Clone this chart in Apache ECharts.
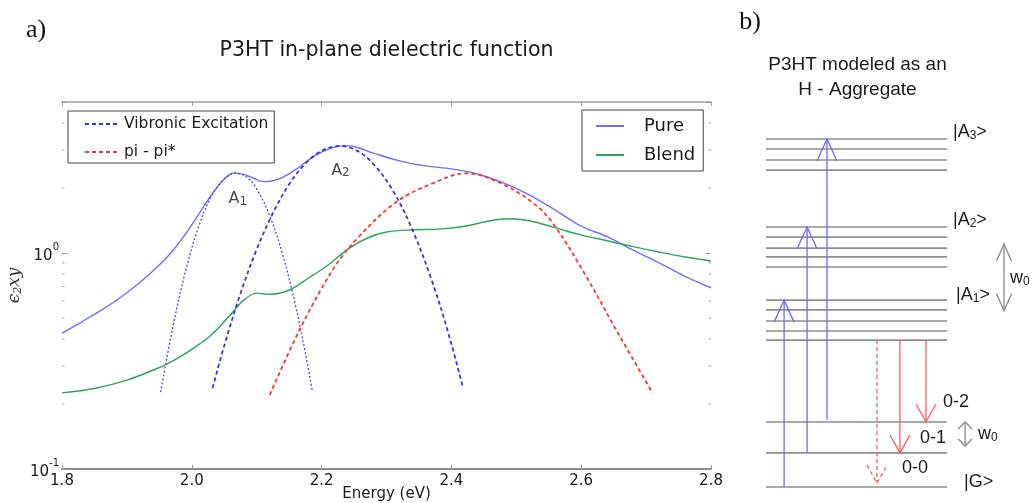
<!DOCTYPE html>
<html>
<head>
<meta charset="utf-8">
<title>P3HT dielectric function and H-aggregate model</title>
<script src="https://cdn.jsdelivr.net/npm/echarts@6/dist/echarts.min.js"></script>
<style>
  html, body { margin: 0; padding: 0; background: #ffffff; }
  #chart { width: 1032px; height: 503px; }
</style>
</head>
<body>
<div id="chart"></div>
<script>
// ---------- Panel a: in-plane eps2 of P3HT (log scale) ----------
const energyMin = 1.8;
const energyMax = 2.8;
const energyStep = 0.2;
const epsMin = 0.1;
const epsMax = 5;
const minorTickValues = [0.2, 0.3, 0.4, 0.5, 0.6, 0.7, 0.8, 0.9, 2, 3, 4];

// Pure P3HT
const pureE = [1.80, 1.83, 1.86, 1.89, 1.92, 1.95, 1.97, 1.99, 2.01, 2.03, 2.05, 2.065, 2.08, 2.095, 2.11, 2.125,
               2.14, 2.16, 2.18, 2.20, 2.22, 2.235, 2.25, 2.28, 2.32, 2.36, 2.40, 2.44, 2.48, 2.52, 2.56, 2.60,
               2.64, 2.68, 2.72, 2.76, 2.80];
const pureV = [0.426, 0.479, 0.542, 0.622, 0.73, 0.879, 1.019, 1.22, 1.50, 1.85, 2.20, 2.35, 2.31, 2.22, 2.14, 2.16,
               2.24, 2.43, 2.70, 2.93, 3.09, 3.14, 3.11, 2.90, 2.67, 2.53, 2.45, 2.32, 2.11, 1.86, 1.58, 1.33,
               1.19, 1.03, 0.90, 0.78, 0.69];

// Blend
const blendE = [1.80, 1.85, 1.90, 1.95, 1.975, 2.00, 2.03, 2.06, 2.08, 2.10, 2.12, 2.15, 2.18, 2.21, 2.24, 2.27,
                2.30, 2.34, 2.38, 2.42, 2.46, 2.49, 2.52, 2.56, 2.60, 2.64, 2.68, 2.72, 2.76, 2.80];
const blendV = [0.225, 0.236, 0.258, 0.295, 0.322, 0.358, 0.417, 0.519, 0.605, 0.652, 0.643, 0.674, 0.766, 0.88, 1.04, 1.17,
                1.25, 1.28, 1.29, 1.33, 1.41, 1.44, 1.41, 1.31, 1.21, 1.14, 1.07, 1.01, 0.958, 0.918];

// Vibronic peak A1 (0-0)
const vibA1E = [1.952, 1.97, 1.99, 2.01, 2.03, 2.05, 2.068, 2.085, 2.10, 2.12, 2.14, 2.16, 2.175, 2.186];
const vibA1V = [0.227, 0.443, 0.817, 1.31, 1.83, 2.20, 2.34, 2.24, 1.98, 1.49, 0.984, 0.568, 0.344, 0.227];

// Vibronic peak A2 (0-1)
const vibA2E = [2.032, 2.05, 2.075, 2.10, 2.125, 2.15, 2.175, 2.20, 2.228, 2.255, 2.28, 2.31, 2.34, 2.37, 2.395, 2.418];
const vibA2V = [0.237, 0.372, 0.649, 1.04, 1.53, 2.08, 2.59, 2.97, 3.13, 2.97, 2.58, 1.94, 1.28, 0.743, 0.428, 0.237];

// pi - pi* band
const piE = [2.12, 2.166, 2.217, 2.254, 2.315, 2.371, 2.423, 2.474, 2.525, 2.555, 2.602, 2.654, 2.71];
const piV = [0.22, 0.44, 0.834, 1.16, 1.72, 2.10, 2.34, 2.12, 1.71, 1.39, 0.834, 0.44, 0.225];

// Peak annotations: [letter, subscript, energy, eps2]
const peakLabels = [['A', '1', 2.071, 1.78], ['A', '2', 2.229, 2.40]];

// ---------- Panel b: H-aggregate energy ladder (arbitrary units) ----------
const levelSpan = [0, 10];
const groundLevels = [0, 1.05, 2.0];
const a1Levels = [4.52, 4.8, 5.11, 5.45, 5.75];
const a2Levels = [6.77, 7.08, 7.35, 7.69, 8.0];
const a3Levels = [9.75, 10.06, 10.4, 10.71];
// absorption arrows: [x, from, to]
const absorption = [[1.0, 0, 5.75], [2.27, 1.05, 8.0], [3.37, 2.08, 10.71]];
// emission arrows: [x, from, to, dashed]
const emission = [[6.13, 4.52, 0.12, 1], [7.40, 4.52, 1.05, 0], [8.84, 4.52, 2.0, 0]];
// vibrational spacing markers: [x, low, high, small]
const spacingMarks = [[13.15, 5.42, 7.48, 0], [11.0, 1.26, 2.0, 1]];
// labels: [x, y, text]
const ladderLabels = [
  [10.33, 10.92, '|A{s|3}>'],
  [10.33, 8.22, '|A{s|2}>'],
  [10.5, 5.91, '|A{s|1}>'],
  [10.94, 0.15, '|G>'],
  [9.78, 2.62, '0-2'],
  [8.51, 1.51, '0-1'],
  [7.51, 0.58, '0-0'],
  [13.48, 6.43, 'w{s|0}'],
  [11.71, 1.63, 'w{s|0}']
];

const SANS = 'DejaVu Sans';
const ARIAL = 'Liberation Sans';
const zip = (xs, ys) => xs.map((x, i) => [x, ys[i]]);

function curve(name, xs, ys, color, width, dash) {
  return {
    type: 'line', name: name, data: zip(xs, ys),
    xAxisIndex: 0, yAxisIndex: 0,
    symbol: 'none', smooth: 0.35,
    lineStyle: { color: color, width: width, type: dash || 'solid' },
    itemStyle: { color: color },
    emphasis: { disabled: true },
    z: 3
  };
}

function arrowShapes(api, x, y0, y1, color, head, lineWidth, dash) {
  const a = api.coord([x, y0]);
  const b = api.coord([x, y1]);
  const dir = b[1] < a[1] ? 1 : -1;
  const style = { stroke: color, lineWidth: lineWidth, fill: null, lineDash: dash || null };
  return [
    { type: 'line', shape: { x1: a[0], y1: a[1], x2: b[0], y2: b[1] }, style: style },
    { type: 'polyline', shape: { points: [[b[0] - head[0], b[1] + dir * head[1]], [b[0], b[1]], [b[0] + head[0], b[1] + dir * head[1]]] }, style: style }
  ];
}

const allLevels = [].concat(groundLevels, a1Levels, a2Levels, a3Levels);

const chart = echarts.init(document.getElementById('chart'), null, { renderer: 'canvas' });

const option = {
  animation: false,
  backgroundColor: '#ffffff',
  grid: [
    { left: 62, right: 321, top: 102, bottom: 34, outerBoundsMode: 'none' },
    { left: 766, right: 85, top: 97, bottom: 16, outerBoundsMode: 'none' }
  ],
  xAxis: [
    {
      gridIndex: 0, type: 'value', position: 'bottom',
      min: energyMin, max: energyMax, interval: energyStep,
      name: 'Energy (eV)', nameLocation: 'middle', nameGap: 18, nameMoveOverlap: false,
      nameTextStyle: { fontFamily: SANS, fontSize: 15, color: '#1a1a1a' },
      axisLine: { lineStyle: { color: '#8a8a8a', width: 2 } },
      axisTick: { inside: true, length: 4, lineStyle: { color: '#9a9a9a' } },
      axisLabel: { margin: 5, fontFamily: SANS, fontSize: 15, color: '#1a1a1a', formatter: v => v.toFixed(1) },
      splitLine: { show: false }
    },
    {
      gridIndex: 0, type: 'value', position: 'top',
      min: energyMin, max: energyMax, interval: energyStep,
      axisLine: { lineStyle: { color: '#a0a0a0', width: 1.5 } },
      axisTick: { inside: true, length: 4, lineStyle: { color: '#a0a0a0' } },
      axisLabel: { show: false },
      splitLine: { show: false }
    },
    { gridIndex: 1, type: 'value', min: levelSpan[0], max: levelSpan[1], show: false }
  ],
  yAxis: [
    {
      gridIndex: 0, type: 'log', logBase: 10, min: epsMin, max: epsMax, position: 'left',
      name: '{i|ϵ}{s|2}{i|xy}', nameLocation: 'middle', nameRotate: 90, nameGap: 38, nameMoveOverlap: false,
      nameTextStyle: {
        rich: {
          i: { fontFamily: 'DejaVu Serif', fontStyle: 'italic', fontSize: 17, color: '#333' },
          s: { fontFamily: 'DejaVu Serif', fontStyle: 'italic', fontSize: 11, color: '#333', verticalAlign: 'bottom', padding: [8, 0, 0, 0] }
        }
      },
      axisLine: { show: false },
      axisTick: { inside: true, length: 5, lineStyle: { color: '#9a9a9a' } },
      axisLabel: {
        margin: 3,
        formatter: function (v) {
          const e = Math.round(Math.log10(v));
          if (Math.abs(Math.log10(v) - e) > 1e-6) return '';
          return '{b|10}{e|' + e + '}';
        },
        rich: {
          b: { fontFamily: SANS, fontSize: 15, color: '#1a1a1a', verticalAlign: 'bottom' },
          e: { fontFamily: SANS, fontSize: 10, color: '#1a1a1a', verticalAlign: 'top', padding: [0, 0, 12, 0] }
        }
      },
      splitLine: { show: false }
    },
    {
      gridIndex: 0, type: 'log', logBase: 10, min: epsMin, max: epsMax, position: 'right',
      axisLine: { show: false },
      axisTick: { inside: true, length: 5, lineStyle: { color: '#9a9a9a' } },
      axisLabel: { show: false },
      splitLine: { show: false }
    },
    { gridIndex: 1, type: 'value', min: 0, max: 12, show: false }
  ],
  legend: [
    {
      data: ['Vibronic Excitation', 'pi - pi*'],
      orient: 'vertical', left: 68, top: 111,
      padding: [4, 6, 2, 16], itemGap: 10,
      itemWidth: 32, itemHeight: 12,
      borderColor: '#444', borderWidth: 1, backgroundColor: '#ffffff',
      itemStyle: { opacity: 0 },
      textStyle: { fontFamily: SANS, fontSize: 15.5, lineHeight: 18, color: '#1a1a1a', padding: [0, 0, 0, 2] },
      selectedMode: false
    },
    {
      data: ['Pure', 'Blend'],
      orient: 'vertical', left: 582, top: 110,
      padding: [6, 8, 6, 13], itemGap: 9,
      itemWidth: 28, itemHeight: 12,
      borderColor: '#444', borderWidth: 1, backgroundColor: '#ffffff',
      itemStyle: { opacity: 0 },
      textStyle: { fontFamily: SANS, fontSize: 18, lineHeight: 20, color: '#1a1a1a', padding: [0, 0, 0, 15] },
      selectedMode: false
    }
  ],
  graphic: [
    { type: 'text', x: 36, y: 30, style: { text: 'a)', fontFamily: 'Liberation Serif', fontSize: 26, fill: '#111', align: 'center', verticalAlign: 'middle' } },
    { type: 'text', x: 750, y: 22, style: { text: 'b)', fontFamily: 'Liberation Serif', fontSize: 26, fill: '#111', align: 'center', verticalAlign: 'middle' } },
    { type: 'text', x: 386.5, y: 51, style: { text: 'P3HT in-plane dielectric function', fontFamily: SANS, fontSize: 20.5, fill: '#1a1a1a', align: 'center', verticalAlign: 'middle' } },
    { type: 'text', x: 857.5, y: 65, style: { text: 'P3HT modeled as an', fontFamily: ARIAL, fontSize: 19, fill: '#1a1a1a', align: 'center', verticalAlign: 'middle' } },
    { type: 'text', x: 857.5, y: 90, style: { text: 'H - Aggregate', fontFamily: ARIAL, fontSize: 19, fill: '#1a1a1a', align: 'center', verticalAlign: 'middle' } }
  ],
  series: [
    curve('Pure', pureE, pureV, '#6f6fff', 1.4),
    curve('Blend', blendE, blendV, '#2ea55a', 1.4),
    curve('Vibronic Excitation', vibA2E, vibA2V, '#3434f0', 1.8, [4, 3]),
    curve('Vibronic Excitation', vibA1E, vibA1V, '#4848ee', 1.3, [2, 2]),
    curve('pi - pi*', piE, piV, '#ff3333', 1.8, [4, 3]),
    {
      // peak names
      type: 'scatter', xAxisIndex: 0, yAxisIndex: 0, symbolSize: 0, silent: true,
      data: peakLabels.map(p => [p[2], p[3]]),
      label: {
        show: true, position: 'inside',
        formatter: p => '{a|' + peakLabels[p.dataIndex][0] + '}{s|' + peakLabels[p.dataIndex][1] + '}',
        rich: {
          a: { fontFamily: SANS, fontSize: 16, color: '#1a1a1a', verticalAlign: 'top' },
          s: { fontFamily: SANS, fontSize: 12, color: '#1a1a1a', verticalAlign: 'bottom', padding: [5, 0, 0, 0] }
        }
      },
      z: 4
    },
    {
      // minor log ticks on both vertical edges
      type: 'custom', xAxisIndex: 0, yAxisIndex: 0, silent: true,
      data: minorTickValues.map(v => [energyMin, v]),
      renderItem: function (params, api) {
        const v = api.value(1);
        const l = api.coord([energyMin, v]);
        const r = api.coord([energyMax, v]);
        const st = { stroke: '#a5a5a5', lineWidth: 1 };
        return {
          type: 'group', children: [
            { type: 'line', shape: { x1: l[0], y1: l[1], x2: l[0] + 2.5, y2: l[1] }, style: st },
            { type: 'line', shape: { x1: r[0] - 2.5, y1: r[1], x2: r[0], y2: r[1] }, style: st }
          ]
        };
      },
      z: 2
    },
    {
      // energy levels
      type: 'custom', xAxisIndex: 2, yAxisIndex: 2, silent: true,
      data: allLevels.map(e => [levelSpan[0], e, levelSpan[1]]),
      renderItem: function (params, api) {
        const p0 = api.coord([api.value(0), api.value(1)]);
        const p1 = api.coord([api.value(2), api.value(1)]);
        return { type: 'line', shape: { x1: p0[0], y1: p0[1], x2: p1[0], y2: p1[1] }, style: { stroke: '#8e8e8e', lineWidth: 1.6 } };
      },
      z: 2
    },
    {
      // absorption
      type: 'custom', xAxisIndex: 2, yAxisIndex: 2, silent: true,
      data: absorption,
      renderItem: function (params, api) {
        return { type: 'group', children: arrowShapes(api, api.value(0), api.value(1), api.value(2), '#6a6aff', [10, 22], 1.3) };
      },
      z: 3
    },
    {
      // emission
      type: 'custom', xAxisIndex: 2, yAxisIndex: 2, silent: true,
      data: emission,
      renderItem: function (params, api) {
        const dash = api.value(3) ? [4, 3] : null;
        return { type: 'group', children: arrowShapes(api, api.value(0), api.value(1), api.value(2), '#ff5a5a', [10, 18], 1.3, dash) };
      },
      z: 3
    },
    {
      // vibrational spacing markers
      type: 'custom', xAxisIndex: 2, yAxisIndex: 2, silent: true,
      data: spacingMarks,
      renderItem: function (params, api) {
        const x = api.value(0), lo = api.value(1), hi = api.value(2);
        const small = api.value(3);
        const head = small ? [7, 7] : [7.5, 17];
        const mid = (lo + hi) / 2;
        const up = arrowShapes(api, x, mid, hi, '#8a8a8a', head, 1.3);
        const down = arrowShapes(api, x, mid, lo, '#8a8a8a', head, 1.3);
        return { type: 'group', children: up.concat(down) };
      },
      z: 3
    },
    {
      // ladder labels
      type: 'custom', xAxisIndex: 2, yAxisIndex: 2, silent: true,
      data: ladderLabels.map(r => [r[0], r[1]]),
      renderItem: function (params, api) {
        const row = ladderLabels[params.dataIndex];
        const p = api.coord([row[0], row[1]]);
        return {
          type: 'text', x: p[0], y: p[1],
          style: {
            text: row[2], align: 'left', verticalAlign: 'middle',
            fontFamily: ARIAL, fontSize: 18, fill: '#1a1a1a',
            rich: {
              s: { fontFamily: ARIAL, fontSize: 12, fill: '#1a1a1a', verticalAlign: 'bottom', padding: [7, 0, 0, 0] }
            }
          }
        };
      },
      z: 4
    }
  ]
};

chart.setOption(option);
</script>
</body>
</html>
